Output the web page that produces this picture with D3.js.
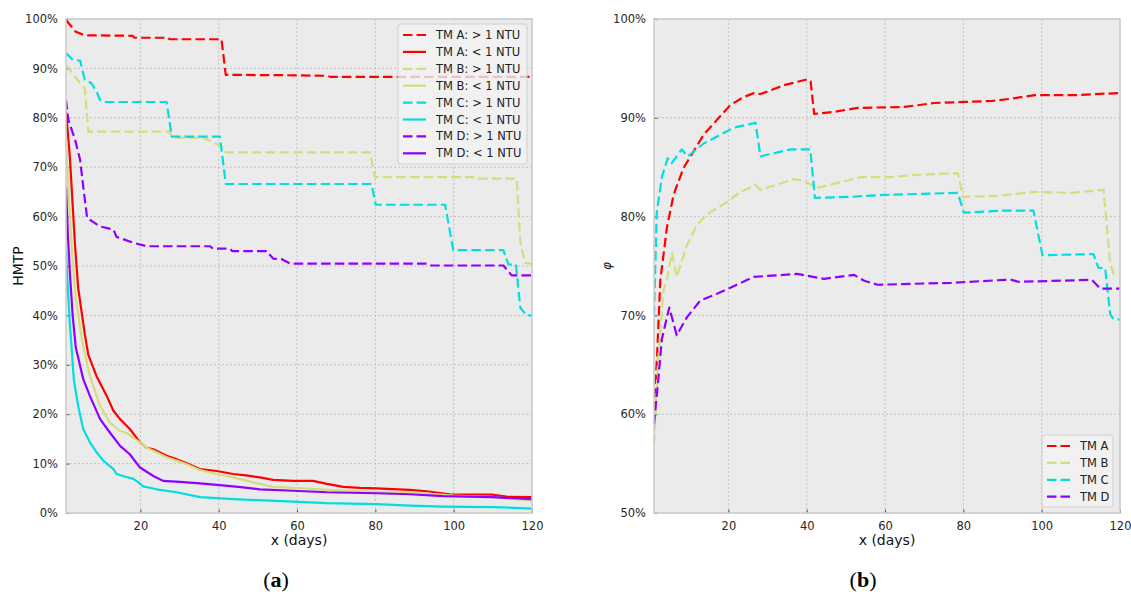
<!DOCTYPE html>
<html><head><meta charset="utf-8">
<script src="https://cdn.jsdelivr.net/npm/d3@7"></script>
<style>body{margin:0;background:#fff}svg{display:block}text{font-family:"DejaVu Sans",sans-serif}</style>
</head><body><svg id="c" width="1131" height="594"></svg>
<script>
// ---------- data (day, percent) ----------
const aHigh = [[1,99.8],[3.5,97.4],[5.8,96.7],[18,96.6],[18.5,96.2],[27,96.2],[27.5,95.9],[40.7,95.9],[41.8,88.7],[60,88.6],[67.5,88.5],[68.5,88.3],[120,88.3]];
const aLow = [[1,81.3],[2,71.9],[3.3,54.3],[4.1,45.6],[5.8,36.2],[6.7,32],[8.8,27.7],[11.4,23.7],[13.1,20.7],[14.8,19.0],[17.3,17.0],[19.9,14.3],[21.5,13.2],[23.3,12.9],[26.7,11.6],[29.2,10.9],[32,10.0],[35.2,8.9],[39.5,8.5],[43.7,7.9],[47,7.6],[50.5,7.2],[53.9,6.7],[59,6.5],[64.1,6.5],[67.6,5.9],[71.8,5.3],[76,5.1],[80.3,5.0],[88.8,4.7],[93.1,4.4],[99,3.8],[110.1,3.7],[113.5,3.3],[120,3.2]];
const bHigh = [[1,90.7],[4.5,87.1],[5.8,86.0],[6.7,77.2],[27.5,77.2],[28,76.0],[36,76.0],[40.7,74.2],[41.8,73.0],[78.6,73.0],[79.9,68.0],[105.9,68.0],[106.5,67.7],[116.1,67.7],[117,55],[118.2,50.6],[120,50.5]];
const bLow = [[1,76],[2,60],[2.6,52],[3.5,43.5],[5.2,34.5],[7.1,27.7],[9.7,21.7],[12.2,18.3],[14.8,16.6],[16.5,16.2],[18,15.3],[19.9,14.3],[21.5,13.2],[23.3,12.6],[26.7,11.3],[29.2,10.6],[32,9.8],[35.2,8.7],[39.5,7.9],[43.7,7.2],[48.8,6.2],[53.9,5.3],[59,5.1],[67.6,4.7],[80.3,4.3],[88.8,4.2],[99.9,3.5],[110,3.2],[120,2.5]];
const cHigh = [[1,93.1],[2.8,91.7],[4.6,91.6],[5.8,87.7],[7.5,87.0],[8.8,85.3],[9.7,83.6],[10.5,83.2],[26.7,83.2],[28,76.2],[40.3,76.2],[41.8,66.6],[79,66.6],[80.1,62.4],[97.8,62.4],[99.9,53.2],[112.7,53.2],[114,50.3],[115.9,50.3],[117,41.6],[118.6,40],[120,40]];
const cLow = [[1,53],[1.5,45],[2,38],[2.4,33.8],[3,27],[4.1,21.7],[5.4,17.0],[7.1,14.3],[8.8,12.3],[10.5,10.6],[13.1,8.9],[13.9,7.9],[16,7.4],[18.2,6.9],[19.5,6.2],[20.7,5.4],[24.1,4.8],[29.2,4.2],[35.2,3.2],[39.5,3.0],[43.7,2.8],[50,2.6],[59,2.3],[67.6,2.0],[80.3,1.8],[88.8,1.5],[97.3,1.3],[110.1,1.2],[120,0.9]];
const dHigh = [[1,83.6],[1.6,79.6],[3.3,75.6],[4.6,71.5],[5.4,66.1],[6.4,59.7],[9.7,58.0],[13.1,57.4],[13.9,55.9],[18.2,54.7],[21.6,54.0],[37.8,54.0],[38.5,53.5],[42.9,53.5],[43.5,53.0],[52.2,53.0],[53.9,51.5],[56,51.4],[58.2,50.5],[93.1,50.5],[94,50.1],[112.7,50.1],[114.8,48.1],[120,48.1]];
const dLow = [[1,66],[1.5,56],[2,48.5],[2.7,40],[3.5,33.5],[5.4,27.1],[7.1,23.7],[9.7,19.0],[12.2,16.3],[14.8,13.6],[17.3,11.9],[19.9,9.2],[21.5,8.4],[23.3,7.5],[25.8,6.5],[30.1,6.3],[35.2,6.0],[39.5,5.7],[45,5.3],[50.5,4.8],[59,4.5],[67.6,4.2],[80.3,4.0],[88.8,3.8],[97.3,3.4],[110,3.2],[120,2.8]];

const phiA = [[1,60.3],[1.8,66],[2.6,73.5],[4.3,78.9],[6,82.2],[8.5,84.9],[11.1,86.6],[13.7,88.3],[17.1,89.8],[20.5,91.3],[23.9,92.1],[26.5,92.5],[28.2,92.4],[34.2,93.3],[40.2,93.9],[41,93.7],[41.9,90.4],[47,90.6],[53,91.0],[65,91.1],[72.6,91.5],[87.2,91.7],[91.5,91.9],[98.3,92.3],[109.4,92.3],[113.7,92.4],[120,92.5]];
const phiB = [[1,57],[2,65],[3.4,72.5],[4.3,73.6],[5.6,76.3],[6.8,73.9],[9.4,77.1],[12,79.2],[14.5,80.2],[19.7,81.5],[23.1,82.5],[26.9,83.2],[28.2,82.7],[36.8,83.8],[39.3,83.6],[42.7,82.9],[53.8,84.0],[62.4,84.0],[66.7,84.2],[78.6,84.4],[79.9,82.0],[88.9,82.1],[98.3,82.5],[107.7,82.4],[115.8,82.7],[117.5,75.2],[118.4,74.2],[120,74.3]];
const phiC = [[1,70],[1.7,80.4],[3,84],[4.5,85.9],[5.5,85.4],[8.1,86.8],[9.6,86.1],[13.7,87.4],[21.4,89.0],[26.9,89.5],[28.2,86.1],[35.9,86.8],[40.9,86.8],[42.1,81.9],[51.3,82.0],[59.8,82.2],[78.6,82.4],[80.1,80.4],[89.7,80.6],[97.9,80.6],[100.2,76.1],[113.2,76.2],[114.5,74.8],[116.2,74.8],[117.5,70.1],[118.4,69.6],[120,69.6]];
const phiD = [[1,59],[2.1,63.5],[3,67.6],[4.9,70.8],[6.8,68.0],[9.4,69.8],[12.8,71.5],[17.1,72.2],[20.5,72.8],[26.5,73.9],[37.6,74.2],[40.2,74.0],[44.4,73.7],[52.1,74.1],[54.7,73.5],[58.1,73.1],[76.9,73.3],[90.6,73.6],[92.3,73.6],[94,73.4],[112.8,73.6],[115,72.7],[120,72.7]];

const xTicks = [20,40,60,80,100,120];
const yTicksA = [0,10,20,30,40,50,60,70,80,90,100];
const yTicksB = [50,60,70,80,90,100];
const legendA = ["TM A: > 1 NTU","TM A: < 1 NTU","TM B: > 1 NTU","TM B: < 1 NTU","TM C: > 1 NTU","TM C: < 1 NTU","TM D: > 1 NTU","TM D: < 1 NTU"];
const legendB = ["TM A","TM B","TM C","TM D"];

// ---------- style ----------
const COL = {A:"#ff0000", B:"#d2de7c", C:"#00dede", D:"#9000ff"};
const DASH = "9.5,4.2";
const LW = 2.2;

const svg = d3.select("#c");
svg.append("rect").attr("width",1131).attr("height",594).attr("fill","#fff");

function panel(id, x0, x1, yDom, yTicks, series, yLabel, yLabelX, yLabelStyle, legend, sub, subX){
  const x = d3.scaleLinear().domain([1,120]).range([x0,x1]);
  const y = d3.scaleLinear().domain(yDom).range([513,19]);
  const g = svg.append("g");
  g.append("rect").attr("x",x0).attr("y",19).attr("width",x1-x0).attr("height",494).attr("fill","#ebebeb");
  // grid
  g.selectAll(".gx").data(xTicks).join("line").attr("x1",d=>x(d)).attr("x2",d=>x(d)).attr("y1",19).attr("y2",513)
    .attr("stroke","#b9b9b9").attr("stroke-width",0.8).attr("stroke-dasharray","2,2");
  g.selectAll(".gy").data(yTicks).join("line").attr("x1",x0).attr("x2",x1).attr("y1",d=>y(d)).attr("y2",d=>y(d))
    .attr("stroke","#b9b9b9").attr("stroke-width",0.8).attr("stroke-dasharray","2,2");
  // axes
  const xa = g.append("g").attr("transform",`translate(0,513)`)
    .call(d3.axisBottom(x).tickValues(xTicks).tickSizeInner(-3.5).tickSizeOuter(0).tickPadding(9));
  const ya = g.append("g").attr("transform",`translate(${x0},0)`)
    .call(d3.axisLeft(y).tickValues(yTicks).tickFormat(d=>d+"%").tickSizeInner(-3.5).tickSizeOuter(0).tickPadding(8));
  [xa,ya].forEach(a=>{
    a.select(".domain").remove();
    a.selectAll(".tick line").attr("stroke","#555").attr("stroke-width",1);
    a.selectAll(".tick text").attr("fill","#262626").style("font-size","11.5px").style("font-family","DejaVu Sans");
  });
  // clip + lines
  g.append("clipPath").attr("id","clip"+id).append("rect").attr("x",x0).attr("y",19).attr("width",x1-x0).attr("height",494);
  const line = d3.line().x(d=>x(d[0])).y(d=>y(d[1]));
  const lg = g.append("g").attr("clip-path",`url(#clip${id})`);
  series.forEach(s=>{
    lg.append("path").attr("d",line(s.data)).attr("fill","none").attr("stroke",s.color)
      .attr("stroke-width",LW).attr("stroke-dasharray",s.dash?DASH:null).attr("stroke-linejoin","round");
  });
  // spines
  g.append("rect").attr("x",x0).attr("y",19).attr("width",x1-x0).attr("height",494).attr("fill","none")
    .attr("stroke","#cbcbcb").attr("stroke-width",1.5);
  // axis labels
  g.append("text").attr("x",(x0+x1)/2).attr("y",545).attr("text-anchor","middle").style("font-size","14px").attr("fill","#111").text("x (days)");
  const yl = g.append("text").attr("transform",`translate(${yLabelX},266) rotate(-90)`).attr("text-anchor","middle")
    .attr("dominant-baseline","central").attr("fill","#111").text(yLabel);
  yl.style("font-size",yLabelStyle.size).style("font-style",yLabelStyle.style);
  // legend
  const L = legend;
  const lgd = g.append("g");
  lgd.append("rect").attr("x",L.x).attr("y",L.y).attr("width",L.w).attr("height",L.h).attr("rx",3)
    .attr("fill","#f2f2f2").attr("fill-opacity",0.78).attr("stroke","#d0d0d0").attr("stroke-width",1);
  L.items.forEach((it,i)=>{
    const cy = L.y + 11 + i*16.9;
    lgd.append("line").attr("x1",L.x+5).attr("x2",L.x+28).attr("y1",cy).attr("y2",cy)
      .attr("stroke",it.color).attr("stroke-width",LW).attr("stroke-dasharray",it.dash?"9.5,4":null);
    lgd.append("text").attr("x",L.x+38).attr("y",cy).attr("dominant-baseline","central")
      .style("font-size","11.5px").attr("fill","#222").text(it.label);
  });
  // sub label
  const t = svg.append("text").attr("x",subX).attr("y",587).attr("text-anchor","middle")
    .style("font-family","'Liberation Serif',serif").style("font-size","22px").attr("fill","#000");
  t.append("tspan").text("(");
  t.append("tspan").style("font-weight","bold").text(sub);
  t.append("tspan").text(")");
}

const leftSeries = [
  {data:aHigh,color:COL.A,dash:true,label:legendA[0]},
  {data:aLow,color:COL.A,dash:false,label:legendA[1]},
  {data:bHigh,color:COL.B,dash:true,label:legendA[2]},
  {data:bLow,color:COL.B,dash:false,label:legendA[3]},
  {data:cHigh,color:COL.C,dash:true,label:legendA[4]},
  {data:cLow,color:COL.C,dash:false,label:legendA[5]},
  {data:dHigh,color:COL.D,dash:true,label:legendA[6]},
  {data:dLow,color:COL.D,dash:false,label:legendA[7]}
];
const rightSeries = [
  {data:phiA,color:COL.A,dash:true,label:legendB[0]},
  {data:phiB,color:COL.B,dash:true,label:legendB[1]},
  {data:phiC,color:COL.C,dash:true,label:legendB[2]},
  {data:phiD,color:COL.D,dash:true,label:legendB[3]}
];
panel("a",66,532,[0,100],yTicksA,leftSeries,"HMTP",18,{size:"14px",style:"normal"},
  {x:398,y:24,w:129,h:140,items:leftSeries},"a",276);
panel("b",654,1120,[50,100],yTicksB,rightSeries,"φ",607,{size:"12px",style:"italic"},
  {x:1042,y:435,w:71,h:72,items:rightSeries},"b",863);
</script></body></html>
